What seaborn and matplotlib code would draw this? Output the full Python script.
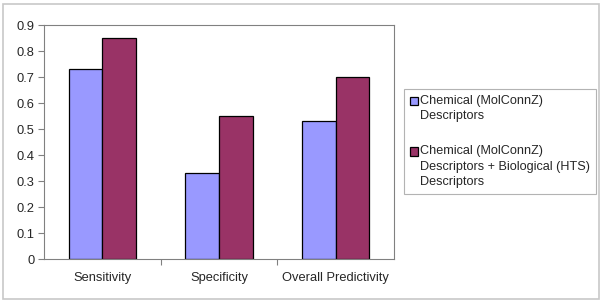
import pandas as pd
import seaborn as sns
import matplotlib.pyplot as plt
from matplotlib.patches import Rectangle
from matplotlib.ticker import FixedLocator
from matplotlib.legend_handler import HandlerPatch

categories = ["Sensitivity", "Specificity", "Overall Predictivity"]
series_names = [
    "Chemical (MolConnZ)\nDescriptors",
    "Chemical (MolConnZ)\nDescriptors + Biological (HTS)\nDescriptors",
]
chemical = [0.73, 0.33, 0.53]
chemical_bio = [0.85, 0.55, 0.70]
yticks = [0, 0.1, 0.2, 0.3, 0.4, 0.5, 0.6, 0.7, 0.8, 0.9]

FS = 9.3
LEG_FS = 9.1
LINE_GAP = 11.0  # points between text lines in the legend


class TopAlignedHandler(HandlerPatch):
    # put the colour square next to the first line of a multi-line label
    def __init__(self, nlines, **kw):
        super().__init__(**kw)
        self.nlines = nlines

    def create_artists(self, legend, orig_handle, xdescent, ydescent,
                       width, height, fontsize, trans):
        shift = (self.nlines - 1) / 2 * LINE_GAP
        p = Rectangle((-xdescent, -ydescent + shift), width, height)
        self.update_prop(p, orig_handle, legend)
        p.set_transform(trans)
        return [p]


df = pd.DataFrame({
    "measure": categories * 2,
    "value": chemical + chemical_bio,
    "series": [series_names[0]] * 3 + [series_names[1]] * 3,
})

sns.set_style("white")
plt.rcParams["font.family"] = ["Liberation Sans", "DejaVu Sans"]
plt.rcParams["font.size"] = FS

fig = plt.figure(figsize=(6.04, 3.05), dpi=100)
ax = fig.add_axes([44 / 604, 1 - 259 / 305, 350 / 604, 234 / 305])

sns.barplot(data=df, x="measure", y="value", hue="series",
            palette=["#9999FF", "#993366"], saturation=1, width=0.58,
            edgecolor="black", linewidth=0.9, ax=ax)

ax.set_ylim(0, 0.9)
ax.set_xlim(-0.5, 2.5)
ax.set_yticks(yticks)
ax.set_yticklabels(["0" if t == 0 else f"{t:.1f}" for t in yticks])
ax.set_xlabel("")
ax.set_ylabel("")
ax.tick_params(axis="y", direction="out", length=4, width=0.8, color="#808080",
               labelsize=FS, left=True, pad=3)
ax.tick_params(axis="x", which="major", length=0, labelsize=FS, pad=9)
ax.xaxis.set_minor_locator(FixedLocator([0.5, 1.5]))
ax.tick_params(axis="x", which="minor", direction="out", length=4, width=0.8,
               color="#808080", bottom=True)
for s in ax.spines.values():
    s.set_color("#808080")
    s.set_linewidth(0.8)

handles, labels = ax.get_legend_handles_labels()
hmap = {h: TopAlignedHandler(lab.count("\n") + 1) for h, lab in zip(handles, labels)}
leg = ax.legend(handles, labels, handler_map=hmap,
                loc="upper left", bbox_to_anchor=(404 / 604, 1 - 89 / 305),
                bbox_transform=fig.transFigure, frameon=True, fancybox=False,
                fontsize=LEG_FS, labelspacing=1.8, handlelength=0.62, handleheight=0.62,
                handletextpad=0.23, borderpad=0.45, borderaxespad=0)
leg.get_frame().set_edgecolor("#a0a0a0")
leg.get_frame().set_linewidth(0.8)
for t in leg.get_texts():
    t.set_linespacing(1.4)

fig.patches.append(Rectangle((3 / 604, 6 / 305), 596 / 604, 295 / 305,
                             transform=fig.transFigure, fill=False,
                             edgecolor="#c8c8c8", linewidth=1.2))

fig.savefig("out.png", dpi=100)
